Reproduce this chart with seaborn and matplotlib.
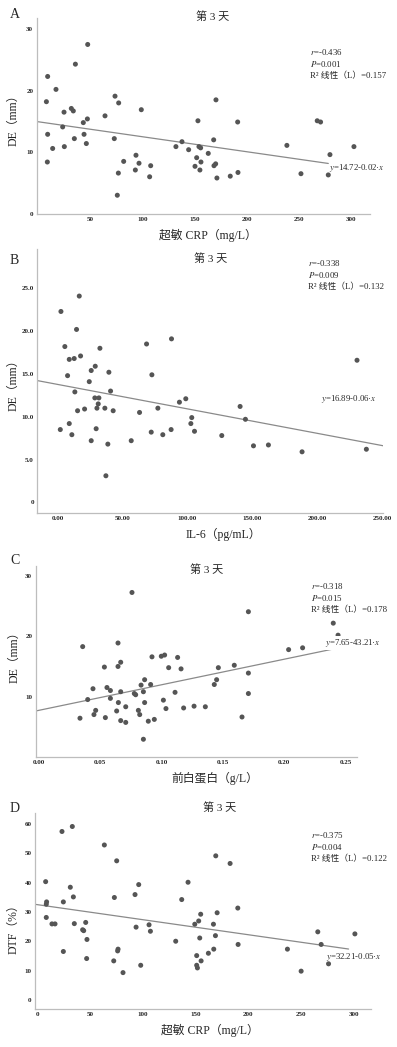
import numpy as np
import matplotlib
matplotlib.use("Agg")
import matplotlib.pyplot as plt
import seaborn as sns

# ---- data (day 3) ----

# A: hs-CRP vs DE
crp_a = [8.9, 7.7, 8.9, 8.6, 13.7, 16.9, 23.3, 24.6, 24.9, 31.6, 33.5, 34.5, 35.5,
         43.1, 43.8, 46.0, 47.0, 47.3, 63.9, 73.5, 72.8, 77.0, 76.7, 75.7, 81.8,
         93.6, 93.0, 96.5, 98.7, 107.7, 106.7, 131.9, 137.7, 144.1, 150.2, 151.8,
         153.0, 154.0, 155.6, 154.9, 155.9, 162.9, 168.1, 168.4, 170.0, 170.3,
         171.2, 184.0, 191.1, 191.4, 238.3, 251.8, 267.4, 270.6, 278.0, 279.6, 302.6]
de_a = [22.3, 18.2, 12.9, 8.4, 10.6, 20.2, 14.1, 16.5, 10.9, 17.1, 16.7, 12.2, 24.3,
        14.8, 12.9, 11.4, 15.4, 27.5, 15.9, 19.1, 12.2, 18.0, 6.6, 3.0, 8.5,
        9.5, 7.1, 8.2, 16.9, 7.8, 6.0, 10.9, 11.7, 10.4, 7.7, 9.1,
        15.1, 10.9, 10.7, 7.1, 8.4, 9.8, 12.0, 7.8, 8.1, 18.5,
        5.8, 6.1, 14.9, 6.7, 11.1, 6.5, 15.1, 14.9, 6.3, 9.6, 10.9]

# B: IL-6 vs DE
il6_b = [2.6, 2.1, 5.6, 7.7, 9.0, 9.0, 11.0, 12.8, 13.3, 14.6, 15.4, 16.7, 17.7,
         20.8, 24.4, 25.9, 25.9, 29.0, 28.7, 29.7, 30.3, 31.3, 31.8, 32.6, 36.4,
         37.2, 38.7, 39.5, 40.8, 42.8, 56.7, 63.1, 68.5, 72.1, 72.6, 77.2, 81.0,
         87.7, 87.4, 93.8, 98.7, 102.6, 103.3, 105.4, 126.4, 140.5, 144.6, 150.8,
         162.3, 188.2, 230.5, 237.7]
de_b = [22.3, 8.5, 18.2, 14.8, 16.7, 9.2, 7.9, 16.8, 12.9, 20.2, 10.7, 24.1, 17.1,
        10.9, 14.1, 15.4, 7.2, 15.9, 12.2, 8.6, 11.0, 11.5, 12.2, 18.0, 11.0,
        3.1, 6.8, 15.2, 13.0, 10.7, 7.2, 10.5, 18.5, 8.2, 14.9, 11.0, 7.9,
        19.1, 8.5, 11.7, 12.1, 9.2, 9.9, 8.3, 7.8, 11.2, 9.7, 6.6,
        6.7, 5.9, 16.6, 6.2]

# C: prealbumin vs DE
pab_c = [0.0334, 0.0356, 0.0397, 0.0440, 0.0448, 0.0462, 0.0533, 0.0541, 0.0554,
         0.0582, 0.0582, 0.0633, 0.0644, 0.0644, 0.0647, 0.0666, 0.0666, 0.0666,
         0.0707, 0.0707, 0.0758, 0.0777, 0.0788, 0.0810, 0.0821, 0.0832, 0.0851,
         0.0851, 0.0861, 0.0861, 0.0891, 0.0910, 0.0921, 0.0940, 0.0997, 0.1014,
         0.1024, 0.1035, 0.1057, 0.1109, 0.1130, 0.1158, 0.1179, 0.1264, 0.1356,
         0.1429, 0.1448, 0.1462, 0.1592, 0.1655, 0.1707, 0.1707, 0.1707, 0.2035,
         0.2149, 0.2399, 0.2438]
de_c = [6.4, 18.3, 9.5, 11.3, 7.0, 7.7, 14.9, 6.5, 11.5,
        11.0, 9.7, 7.6, 18.9, 15.0, 9.0, 15.7, 10.8, 6.0,
        5.7, 8.3, 27.3, 10.5, 10.3, 7.7, 7.0, 11.9, 10.8,
        2.9, 12.8, 9.0, 5.9, 12.0, 16.6, 6.2, 16.7, 9.4,
        16.9, 8.0, 14.8, 10.7, 16.5, 14.6, 8.1, 8.4, 8.3,
        12.0, 12.8, 14.8, 15.2, 6.6, 24.1, 13.9, 10.5, 17.8,
        18.1, 22.2, 20.2]

# D: hs-CRP vs DTF
crp_d = [7.6, 8.5, 8.2, 8.2, 13.6, 16.5, 23.1, 24.4, 24.4, 31.0, 32.9, 33.9, 34.8,
         42.7, 43.7, 45.6, 46.8, 46.5, 63.3, 72.8, 72.2, 75.0, 76.3, 75.9, 81.0,
         92.4, 93.4, 95.9, 97.8, 105.7, 107.0, 131.0, 136.7, 142.7, 149.1, 150.9,
         150.9, 151.6, 152.8, 153.8, 154.7, 155.1, 162.0, 166.8, 167.1, 169.0,
         168.7, 170.3, 182.6, 189.9, 190.2, 237.0, 250.0, 265.8, 269.0, 276.0, 301.0]
dtf_d = [40.3, 33.4, 32.6, 28.1, 25.9, 25.9, 57.4, 33.4, 16.5, 38.4, 59.1, 35.1, 26.0,
         23.9, 23.6, 26.4, 20.6, 14.1, 52.8, 34.9, 13.3, 47.4, 17.3, 16.7, 9.3,
         35.9, 24.8, 39.3, 11.8, 25.6, 23.4, 20.0, 34.2, 40.1, 25.8, 15.1,
         11.8, 10.9, 26.9, 21.1, 29.2, 13.3, 15.9, 25.8, 17.3, 49.1,
         21.9, 29.7, 46.5, 31.3, 18.9, 17.3, 9.8, 23.2, 18.9, 12.3, 22.5]

# r, P, R² per panel (R² line is plain text so the CJK fallback works)
stats_a = ["$r$=-0.436", "$P$=0.001", "R² 线性（L）=0.157"]
stats_b = ["$r$=-0.338", "$P$=0.009", "R² 线性（L）=0.132"]
stats_c = ["$r$=-0.318", "$P$=0.015", "R² 线性（L）=0.178"]
stats_d = ["$r$=-0.375", "$P$=0.004", "R² 线性（L）=0.122"]
eq_a = "$y$=14.72-0.02·$x$"
eq_b = "$y$=16.89-0.06·$x$"
eq_c = "$y$=7.65-43.21·$x$"
eq_d = "$y$=32.21-0.05·$x$"

xticks_a = [50, 100, 150, 200, 250, 300]
yticks_a = [0, 10, 20, 30]
xticks_b = [0, 50, 100, 150, 200, 250]
yticks_b = [0, 5, 10, 15, 20, 25]
ylabels_b = ["0", "5.0", "10.0", "15.0", "20.0", "25.0"]
xticks_c = [0.0, 0.05, 0.10, 0.15, 0.20, 0.25]
yticks_c = [10, 20, 30]
xticks_d = [0, 50, 100, 150, 200, 250, 300]
yticks_d = [0, 10, 20, 30, 40, 50, 60]

W, H = 397, 1047
sns.set_style("white")
plt.rcParams["font.family"] = ["Liberation Serif", "Noto Sans CJK SC", "DejaVu Sans"]
plt.rcParams["mathtext.fontset"] = "stix"

fig = plt.figure(figsize=(W / 100, H / 100), dpi=100)


def ftxt(x, y, s, **kw):
    # text placed by figure pixel position
    fig.text(x / W, 1 - y / H, s, **kw)


def draw_panel(box, xs, ys, xlim, ylim, xticks, xlabels, yticks, ylabels,
               xlabel, ylabel, fit_span, letter, letter_xy, title_xy,
               stats, stats_xy, eq, eq_xy, xlabel_xy, ylabel_xy, eq_bg=False):
    l, t, r, b = box
    ax = fig.add_axes([l / W, 1 - b / H, (r - l) / W, (b - t) / H])

    sns.scatterplot(x=xs, y=ys, s=13, color="#555555", edgecolor="none",
                    ax=ax, zorder=3)
    slope, icpt = np.polyfit(xs, ys, 1)
    lx = np.array(fit_span)
    sns.lineplot(x=lx, y=icpt + slope * lx, color="#8a8a8a", lw=0.9, ax=ax, zorder=2)

    ax.set_xlim(*xlim)
    ax.set_ylim(*ylim)
    ax.set_xticks(xticks)
    ax.set_xticklabels(xlabels, fontsize=5, fontweight="bold")
    ax.set_yticks(yticks)
    ax.set_yticklabels(ylabels, fontsize=5, fontweight="bold")
    ax.tick_params(length=0, pad=2.5)
    for side in ["top", "right"]:
        ax.spines[side].set_visible(False)
    for side in ["left", "bottom"]:
        ax.spines[side].set_color("#bdbdbd")
        ax.spines[side].set_linewidth(0.9)

    ax.set_xlabel(xlabel, fontsize=8.5, va="center")
    ax.xaxis.set_label_coords((xlabel_xy[0] - l) / (r - l), (b - xlabel_xy[1]) / (b - t))
    ax.set_ylabel(ylabel, fontsize=8.5, va="center")
    ax.yaxis.set_label_coords((ylabel_xy[0] - l) / (r - l), (b - ylabel_xy[1]) / (b - t))

    ftxt(*letter_xy, letter, fontsize=10, ha="left", va="center")
    ftxt(*title_xy, "第 3 天", fontsize=8, ha="center", va="center")
    for i, s in enumerate(stats):
        ftxt(stats_xy[0], stats_xy[1] + i * 11.8, s, fontsize=6.3, ha="left", va="center")
    kw = dict(fontsize=6.3, ha="left", va="center")
    if eq_bg:
        kw["bbox"] = dict(facecolor="white", edgecolor="none", pad=0.6)
    ftxt(*eq_xy, eq, zorder=5, **kw)
    return ax


draw_panel((36.7, 18, 370, 213.7), crp_a, de_a, (-1.6, 318), (0, 31.8),
           xticks_a, [str(v) for v in xticks_a], yticks_a, [str(v) for v in yticks_a],
           "超敏 CRP（mg/L）", "DE（mm）", (-1.6, 278),
           "A", (10, 15), (213, 17), stats_a, (310, 52), eq_a, (329, 168),
           (208, 235), (13, 117))

draw_panel((37.3, 249, 383, 513), il6_b, de_b, (-15.6, 250.5), (-1.25, 29.6),
           xticks_b, ["%.2f" % v for v in xticks_b], yticks_b, ylabels_b,
           "IL-6（pg/mL）", "DE（mm）", (-15.6, 250.5),
           "B", (10, 261), (211, 259), stats_b, (308, 263), eq_b, (321, 399),
           (223, 534), (13, 382))

draw_panel((35.7, 566, 356.7, 756.7), pab_c, de_c, (-0.0027, 0.259), (0, 31.7),
           xticks_c, ["%.2f" % v for v in xticks_c], yticks_c, [str(v) for v in yticks_c],
           "前白蛋白（g/L）", "DE（mm）", (-0.0027, 0.242),
           "C", (10, 560), (207, 570), stats_c, (311, 586), eq_c, (325, 643),
           (215, 778), (14, 654), eq_bg=True)

draw_panel((35, 813, 370.7, 1009), crp_d, dtf_d, (-2.5, 316), (-3.1, 63.7),
           xticks_d, [str(v) for v in xticks_d], yticks_d, [str(v) for v in yticks_d],
           "超敏 CRP（mg/L）", "DTF（%）", (-2.5, 295),
           "D", (10, 808), (220, 808), stats_d, (311, 835), eq_d, (326, 957),
           (210, 1030), (13, 926))

fig.savefig("out.png", dpi=100, facecolor="white")
